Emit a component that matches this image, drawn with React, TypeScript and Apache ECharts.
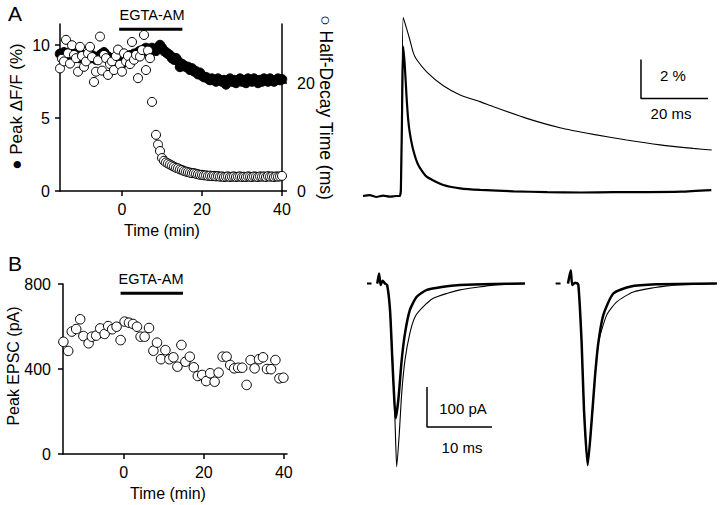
import React, { useEffect, useRef } from "react";
import * as echarts from "echarts";

// ---------- Panel A: scatter (time in min) ----------
const timeA = [
  -15.5, -15, -14.5, -14, -13.5, -13, -12.5, -12, -11.5, -11, -10.5, -10, -9.5, -9, -8.5, -8,
  -7.5, -7, -6.5, -6, -5.5, -5, -4.5, -4, -3.5, -3, -2.5, -2, -1.5, -1, -0.5, 0,
  0.5, 1, 1.5, 2, 2.5, 3, 3.5, 4, 4.5, 5, 5.5, 6, 6.5, 7, 7.5, 8,
  8.5, 9, 9.5, 10, 10.5, 11, 11.5, 12, 12.5, 13, 13.5, 14, 14.5, 15, 15.5, 16,
  16.5, 17, 17.5, 18, 18.5, 19, 19.5, 20, 20.5, 21, 21.5, 22, 22.5, 23, 23.5, 24,
  24.5, 25, 25.5, 26, 26.5, 27, 27.5, 28, 28.5, 29, 29.5, 30, 30.5, 31, 31.5, 32,
  32.5, 33, 33.5, 34, 34.5, 35, 35.5, 36, 36.5, 37, 37.5, 38, 38.5, 39, 39.5, 40,
];
// filled circles: Peak ΔF/F (%)
const peakDFF = [
  9.4, 9.3, 9.5, 9.4, 9.3, 9.5, 9.3, 9.4, 9.2, 9.3, 9.1, 9.2, 9.3, 9.0, 9.2, 9.1,
  9.3, 9.2, 9.0, 9.1, 9.3, 9.4, 9.5, 9.3, 9.2, 9.0, 9.1, 8.9, 9.2, 9.0, 8.8, 8.7,
  8.9, 9.1, 9.2, 9.3, 9.2, 9.4, 9.3, 9.5, 9.6, 9.5, 9.7, 9.8, 9.7, 9.6, 9.8, 9.7,
  9.6, 9.8, 10.0, 9.8, 9.6, 9.5, 9.4, 9.3, 9.1, 9.0, 9.1, 8.9, 8.5, 8.7, 8.6, 8.5,
  8.5, 8.3, 8.4, 8.2, 8.2, 8.0, 8.1, 7.9, 7.8, 7.8, 7.7, 7.6, 7.7, 7.6, 7.5, 7.7,
  7.6, 7.5, 7.6, 7.3, 7.5, 7.7, 7.5, 7.6, 7.4, 7.6, 7.7, 7.5, 7.6, 7.4, 7.7, 7.6,
  7.5, 7.7, 7.6, 7.4, 7.6, 7.5, 7.7, 7.6, 7.5, 7.7, 7.6, 7.5, 7.6, 7.7, 7.6, 7.65,
];
// open circles: Half-Decay Time (ms)
const halfDecay = [
  22.7, 24.5, 24.0, 28.0, 25.5, 23.6, 27.0, 25.2, 24.6, 22.1, 26.7, 25.0, 23.0, 24.0, 25.5, 26.7,
  24.8, 20.2, 22.1, 24.2, 28.6, 22.3, 25.2, 24.6, 21.5, 23.5, 24.0, 22.4, 25.0, 26.2, 23.4, 22.1,
  25.5, 24.0, 25.0, 23.5, 27.6, 24.3, 25.2, 20.9, 24.9, 26.1, 28.9, 22.4, 26.0, 24.6, 16.5, null,
  10.4, 8.6, 7.4, 6.1, 5.6, 5.3, 5.1, 4.9, 4.7, 4.5, 4.3, 4.2, 4.0, 3.9, 3.7, 3.6,
  3.5, 3.4, 3.3, 3.3, 3.2, 3.1, 3.0, 3.0, 2.9, 2.9, 2.8, 2.85, 2.75, 2.8, 2.7, 2.75,
  2.65, 2.7, 2.6, 2.65, 2.7, 2.6, 2.65, 2.7, 2.6, 2.65, 2.7, 2.6, 2.65, 2.6, 2.7, 2.65,
  2.6, 2.7, 2.65, 2.6, 2.7, 2.65, 2.7, 2.6, 2.75, 2.65, 2.7, 2.6, 2.7, 2.65, 2.7, 2.8,
];
const drugBarA = [-0.7, 15.1];
const drugLevelA = 11.08;

// ---------- Panel A: fluorescence traces (ms, %) ----------
const fastTraceT = [0, 2, 4, 6, 8, 10, 11.0, 11.3, 11.6, 12.0, 12.5, 13.0, 13.5, 14.0, 15.0, 16.5, 19.0, 24, 29, 35, 45, 55, 65, 75, 85, 95, 104];
const fastTraceV = [0, 0.05, -0.05, 0.02, -0.03, 0, 0, 0.3, 3.5, 7.66, 6.63, 5.09, 3.9, 3.21, 2.36, 1.59, 0.99, 0.56, 0.39, 0.31, 0.24, 0.2, 0.18, 0.2, 0.2, 0.22, 0.3];
const slowTraceT = [11.0, 11.3, 11.6, 12.0, 13.0, 14.0, 15.0, 16.0, 19.0, 24.0, 29.0, 34.9, 38.9, 48.9, 58.8, 68.8, 78.7, 88.7, 98.6, 104.1];
const slowTraceV = [0, 0.3, 4.0, 9.16, 8.6, 8.0, 7.35, 7.0, 6.37, 5.65, 5.18, 4.84, 4.58, 3.98, 3.5, 3.16, 2.87, 2.62, 2.44, 2.36];
const scaleA = [[83, 7], [83, 5], [103, 5]];

// ---------- Panel B: scatter ----------
const timeB = [
  -15.1, -13.9, -13.0, -11.9, -10.9, -10.1, -8.8, -8.0, -6.9, -5.9, -4.8, -3.9, -2.9, -1.8, -0.8,
  0.2, 1.3, 2.3, 3.3, 4.2, 5.2, 6.3, 7.4, 8.3, 9.3, 10.4, 11.4, 12.4, 13.4, 14.4,
  15.4, 16.5, 17.5, 18.5, 19.6, 20.6, 21.6, 22.7, 23.7, 24.7, 25.7, 26.6, 27.6, 28.6, 29.6,
  30.7, 31.7, 32.7, 33.8, 34.8, 35.8, 36.8, 37.9, 38.9, 39.9,
];
const peakEPSC = [
  528, 485, 576, 588, 634, 555, 521, 552, 557, 591, 565, 602, 587, 599, 536,
  623, 618, 612, 599, 552, 552, 593, 486, 524, 446, 489, 446, 455, 411, 513,
  434, 458, 408, 367, 372, 343, 380, 340, 383, 458, 458, 419, 403, 406, 406,
  325, 442, 403, 446, 455, 400, 399, 442, 356, 359,
];
const drugBarB = [-0.8, 14.8];
const drugLevelB = 756;

// ---------- Panel B: EPSC traces (ms, pA) ----------
const leftThickT = [1.58, 1.85, 2.1, 2.4, 2.77, 3.1, 3.54, 3.9, 4.2, 4.42, 4.82, 5.34, 5.85, 6.6, 7.65, 9.2, 11.74, 14.3, 19.4, 24.3];
const leftThickV = [0, 25, -4, 7, 0, -4, -66, -191, -291, -337, -291, -191, -124, -66, -33, -16, -8, -4, -1, 0];
const leftThinT = [1.58, 1.85, 2.1, 2.4, 2.77, 3.1, 3.54, 3.9, 4.2, 4.4, 4.57, 4.97, 5.34, 5.85, 6.6, 7.4, 8.66, 10.2, 12.26, 14.3, 16.9, 19.4, 24.3];
const leftThinV = [0, 25, -4, 7, 0, -4, -66, -191, -291, -390, -458, -374, -274, -191, -124, -83, -58, -37, -25, -16, -9.5, -4, 0];
const rightThickT = [2.0, 2.42, 2.66, 3.08, 3.58, 4.1, 4.46, 5.03, 5.65, 6.15, 6.66, 7.43, 8.97, 11.5, 15.6, 24.9];
const rightThickV = [0, 33, -4, 2, -2, -149, -316, -454, -341, -233, -149, -79, -25, -8, -2, 0];
const rightThinT = [2.0, 2.42, 2.66, 3.08, 3.58, 4.1, 4.46, 5.03, 5.65, 6.15, 6.66, 7.95, 9.5, 12.05, 17.2, 24.9];
const rightThinV = [0, 33, -4, 2, -2, -149, -316, -454, -341, -233, -149, -79, -46, -21, -6, 0];
const leftDash = [[0, 0], [0.7, 0]];
const rightDash = [[0.1, 0], [0.85, 0]];
const scaleB = [[9.23, -258.75], [9.23, -358.75], [19.23, -358.75]];

const FONT = "'Liberation Sans', Arial, Helvetica, sans-serif";
const zip = (a: number[], b: (number | null)[]) => a.map((v, i) => [v, b[i]]);

const axisBase = (extra: any) => ({
  type: "value",
  splitLine: { show: false },
  axisLine: { show: true, onZero: false, lineStyle: { color: "#000", width: 1.5 } },
  ...extra,
});
const ticks = (vals: number[], margin: number) => ({
  axisTick: { show: true, length: 5, customValues: vals, lineStyle: { color: "#000", width: 1.5 } },
  axisLabel: { customValues: vals, margin, color: "#000", fontSize: 16, fontFamily: FONT },
});

const txt = (text: string, x: number, y: number, size = 14, rotation = 0) => ({
  type: "text",
  x,
  y,
  rotation,
  style: { text, fill: "#000", font: `${size}px ${FONT}`, textAlign: "center", textVerticalAlign: "middle" },
});

const lineS = (xi: number, yi: number, data: any, width: number, extra: any = {}) => ({
  type: "line",
  xAxisIndex: xi,
  yAxisIndex: yi,
  data,
  symbol: "none",
  silent: true,
  lineStyle: { color: "#000", width },
  ...extra,
});

export default function App() {
  const ref = useRef<HTMLDivElement>(null);
  useEffect(() => {
    if (!ref.current) return;
    const chart = echarts.init(ref.current, null, { renderer: "svg" });
    const option: any = {
      animation: false,
      backgroundColor: "#fff",
      grid: [
        { left: 60, top: 24, width: 222, height: 167 },
        { left: 363, top: 10.75, width: 350, height: 204.75 },
        { left: 63, top: 284, width: 224, height: 170 },
        { left: 367, top: 263.5, width: 162.5, height: 220 },
        { left: 555, top: 263.5, width: 162.5, height: 220 },
      ],
      xAxis: [
        axisBase({ gridIndex: 0, min: -15.5, max: 40, ...ticks([0, 20, 40], 10) }),
        { type: "value", gridIndex: 1, min: 0, max: 104.5, show: false },
        axisBase({ gridIndex: 2, min: -15.2, max: 40.8, ...ticks([0, 20, 40], 10) }),
        { type: "value", gridIndex: 3, min: 0, max: 25, show: false },
        { type: "value", gridIndex: 4, min: 0, max: 25, show: false },
      ],
      yAxis: [
        axisBase({ gridIndex: 0, min: 0, max: 11.44, ...ticks([0, 5, 10], 10) }),
        axisBase({ gridIndex: 0, position: "right", min: 0, max: 30.93, ...ticks([0, 20], 15) }),
        { type: "value", gridIndex: 1, min: -1, max: 9.5, show: false },
        axisBase({ gridIndex: 2, min: 0, max: 800, ...ticks([0, 400, 800], 12) }),
        { type: "value", gridIndex: 3, min: -500, max: 50, show: false },
        { type: "value", gridIndex: 4, min: -500, max: 50, show: false },
      ],
      series: [
        // Panel A scatter
        {
          type: "scatter", xAxisIndex: 0, yAxisIndex: 0, data: zip(timeA, peakDFF),
          symbol: "circle", symbolSize: 9.5, silent: true,
          itemStyle: { color: "#000", borderColor: "#000", borderWidth: 1, opacity: 1 },
        },
        {
          type: "scatter", xAxisIndex: 0, yAxisIndex: 1, data: zip(timeA, halfDecay).filter((d) => d[1] !== null),
          symbol: "circle", symbolSize: 9, silent: true,
          itemStyle: { color: "#fff", borderColor: "#000", borderWidth: 1, opacity: 1 },
        },
        lineS(0, 0, [[drugBarA[0], drugLevelA], [drugBarA[1], drugLevelA]], 3),
        // Panel A traces
        lineS(1, 2, zip(slowTraceT, slowTraceV), 1.1, { smooth: 0.2 }),
        lineS(1, 2, zip(fastTraceT, fastTraceV), 2.2, { smooth: 0.2 }),
        lineS(1, 2, scaleA, 1.5),
        // Panel B scatter
        {
          type: "scatter", xAxisIndex: 2, yAxisIndex: 3, data: zip(timeB, peakEPSC),
          symbol: "circle", symbolSize: 9.5, silent: true,
          itemStyle: { color: "#fff", borderColor: "#000", borderWidth: 1, opacity: 1 },
        },
        lineS(2, 3, [[drugBarB[0], drugLevelB], [drugBarB[1], drugLevelB]], 3),
        // Panel B traces
        lineS(3, 4, zip(leftThinT, leftThinV), 1.1, { smooth: 0.2 }),
        lineS(3, 4, zip(leftThickT, leftThickV), 2.5, { smooth: 0.2 }),
        lineS(3, 4, leftDash, 2),
        lineS(3, 4, scaleB, 1.5),
        lineS(4, 5, zip(rightThinT, rightThinV), 1.1, { smooth: 0.2 }),
        lineS(4, 5, zip(rightThickT, rightThickV), 2.5, { smooth: 0.2 }),
        lineS(4, 5, rightDash, 2),
      ],
      graphic: [
        txt("A", 15, 13, 21),
        txt("B", 15, 263, 21),
        txt("EGTA-AM", 152, 15, 14.5),
        txt("EGTA-AM", 151, 279, 14.5),
        txt("● Peak ΔF/F (%)", 16, 106.5, 17, Math.PI / 2),
        txt("○ Half-Decay Time (ms)", 326, 107.5, 17.5, -Math.PI / 2),
        txt("Peak EPSC (pA)", 13, 366, 16, Math.PI / 2),
        txt("Time (min)", 162, 230, 16),
        txt("Time (min)", 168, 493, 16),
        txt("2 %", 673, 75, 15),
        txt("20 ms", 671, 113, 15),
        txt("100 pA", 463, 408, 15),
        txt("10 ms", 462, 447, 15),
      ],
    };
    chart.setOption(option);
    return () => chart.dispose();
  }, []);
  return <div ref={ref} style={{ position: "fixed", left: 0, top: 0, width: 720, height: 505 }} />;
}
